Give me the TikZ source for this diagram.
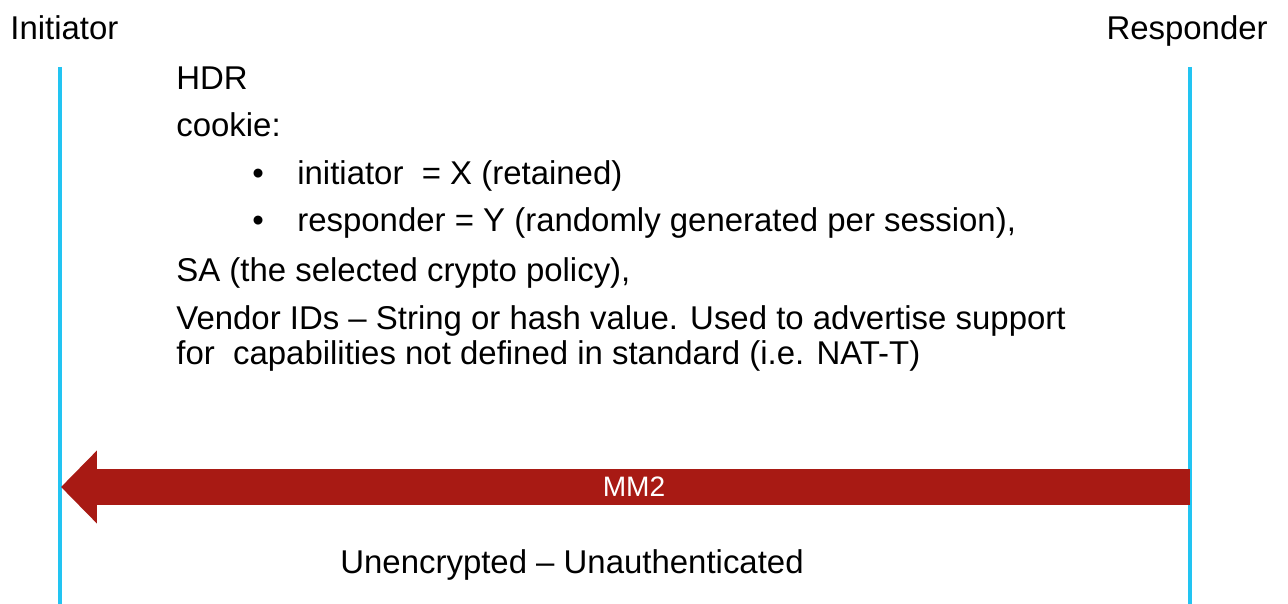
\documentclass[tikz,border=0pt]{standalone}
\usepackage{fontspec}
\setmainfont{Liberation Sans}
\usetikzlibrary{arrows.meta}
\definecolor{lifeblue}{HTML}{22C4F2}
\definecolor{msgred}{HTML}{A81A14}
\tikzset{
    lifeline/.style={draw=lifeblue, line width=1.8pt},
    txt/.style={anchor=base west, inner sep=0pt, font=\fontsize{18.75}{22}\selectfont},
    msgarrow/.style={draw=msgred, line width=21pt, -{Triangle[length=0.72cm, width=1.42cm]}},
}
\begin{document}
\begin{tikzpicture}[x=0.02cm, y=-0.02cm]
        \useasboundingbox (0,0) rectangle (1288,604);
        \node[txt] (ini) at (10,40) {Initiator};
        \node[txt, anchor=base east] (res) at (1268,40) {Responder};
        \coordinate (iniTop) at (60,67);
        \coordinate (iniBot) at (60,604);
        \coordinate (resTop) at (1190,67);
        \coordinate (resBot) at (1190,604);
        \draw[lifeline] (iniTop)--(iniBot);
        \draw[lifeline] (resTop)--(resBot);
        % payload of the message
        \node[txt] (hdr) at (176,90) {HDR};
        \node[txt] (cookie) at (176,137) {cookie:};
        \node[txt] (bulA) at (252,185) {\textbullet};
        \node[txt] (cookieI) at (297,185) {initiator\ \ = X (retained)};
        \node[txt] (bulB) at (252,232) {\textbullet};
        \node[txt] (cookieR) at (297,232) {responder = Y (randomly generated per session),};
        \node[txt] (sa) at (176,282) {SA (the selected crypto policy),};
        \node[txt] (vendA) at (176,330) {Vendor IDs \textendash{} String or hash value. Used to advertise support};
        \node[txt] (vendB) at (176,365) {for\ \ capabilities not defined in standard (i.e. NAT-T)};
        % the message itself
        \coordinate (mmR) at (1190,487);
        \coordinate (mmL) at (61,487);
        \draw[msgarrow] (mmR)--(mmL);
        \node[inner sep=0pt, text=white, font=\fontsize{16}{18}\selectfont] (mm2) at (634,487) {MM2};
        \node[txt] (note) at (340,573) {Unencrypted \textendash{} Unauthenticated};
    \end{tikzpicture}
\end{document}
